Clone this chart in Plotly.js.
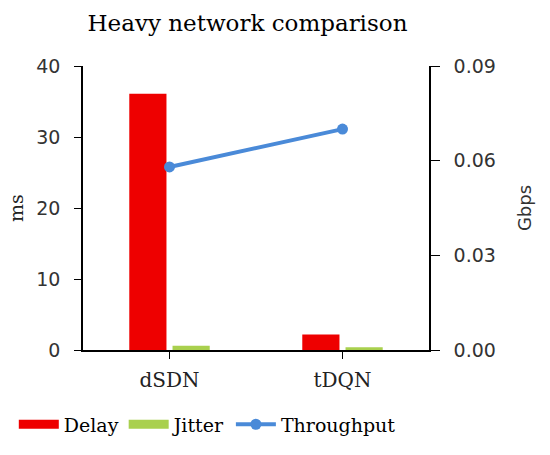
<!DOCTYPE html>
<html>
<head>
<meta charset="utf-8">
<script src="https://cdn.plot.ly/plotly-3.0.1.min.js"></script>
<style>
  body { margin: 0; background: #fff; }
  #chart { width: 550px; height: 455px; }
</style>
</head>
<body>
<div id="chart"></div>
<script>
let categories = ["dSDN", "tDQN"];
let delay = [36.1, 2.2];
let jitter = [0.6, 0.4];
let throughput = [0.058, 0.070];

let serif = "DejaVu Serif, serif";
let sans = "DejaVu Sans, Verdana, sans-serif";
let red = "#ee0000";
let green = "#a9d04e";
let blue = "#4a8ad8";

let data = [
  {
    x: categories,
    y: delay,
    name: "Delay",
    type: "bar",
    marker: { color: red },
    showlegend: false,
  },
  {
    x: categories,
    y: jitter,
    name: "Jitter",
    type: "bar",
    marker: { color: green },
    showlegend: false,
  },
  // legend-only entries so the bar keys are wide bands like the original
  {
    x: categories,
    y: [null, null],
    name: "Delay",
    type: "scatter",
    mode: "lines",
    line: { color: red, width: 9 },
  },
  {
    x: categories,
    y: [null, null],
    name: "Jitter",
    type: "scatter",
    mode: "lines",
    line: { color: green, width: 9 },
  },
  {
    x: categories,
    y: throughput,
    name: "Throughput",
    type: "scatter",
    mode: "lines+markers",
    yaxis: "y2",
    line: { color: blue, width: 4 },
    marker: { color: blue, size: 11 },
  },
];

let layout = {
  width: 550,
  height: 455,
  margin: { l: 83, r: 121, t: 66, b: 103 },
  paper_bgcolor: "#fff",
  plot_bgcolor: "#fff",
  title: {
    text: "Heavy network comparison",
    font: { family: serif, size: 23, color: "#000" },
    x: 0.45,
    xanchor: "center",
    y: 0.95,
    yanchor: "middle",
  },
  barmode: "group",
  bargap: 0.5,
  bargroupgap: 0.14,
  showlegend: true,
  legend: {
    orientation: "h",
    x: -0.2,
    xanchor: "left",
    y: -0.262,
    yanchor: "middle",
    font: { family: serif, size: 19, color: "#000" },
    itemwidth: 40,
    traceorder: "normal",
  },
  xaxis: {
    automargin: false,
    showline: true,
    linecolor: "#000",
    linewidth: 1.5,
    ticks: "outside",
    ticklen: 7,
    tickcolor: "#000",
    tickfont: { family: serif, size: 20, color: "#222" },
    ticklabelstandoff: 4,
    showgrid: false,
  },
  yaxis: {
    automargin: false,
    title: { text: "ms", font: { family: serif, size: 19, color: "#222" }, standoff: 8 },
    range: [0, 40],
    dtick: 10,
    showline: true,
    linecolor: "#000",
    linewidth: 1.5,
    ticks: "outside",
    ticklen: 7,
    tickcolor: "#000",
    tickfont: { family: sans, size: 19, color: "#333" },
    ticklabelstandoff: 10,
    showgrid: false,
    zeroline: false,
  },
  yaxis2: {
    automargin: false,
    title: { text: "Gbps", font: { family: sans, size: 18, color: "#333" }, standoff: 24 },
    overlaying: "y",
    side: "right",
    range: [0, 0.09],
    dtick: 0.03,
    tickformat: ".2f",
    showline: true,
    linecolor: "#000",
    linewidth: 1.5,
    ticks: "outside",
    ticklen: 9,
    tickcolor: "#000",
    tickfont: { family: sans, size: 19, color: "#333" },
    ticklabelstandoff: 10,
    showgrid: false,
    zeroline: false,
  },
};

Plotly.newPlot("chart", data, layout, { displayModeBar: false });
</script>
</body>
</html>
